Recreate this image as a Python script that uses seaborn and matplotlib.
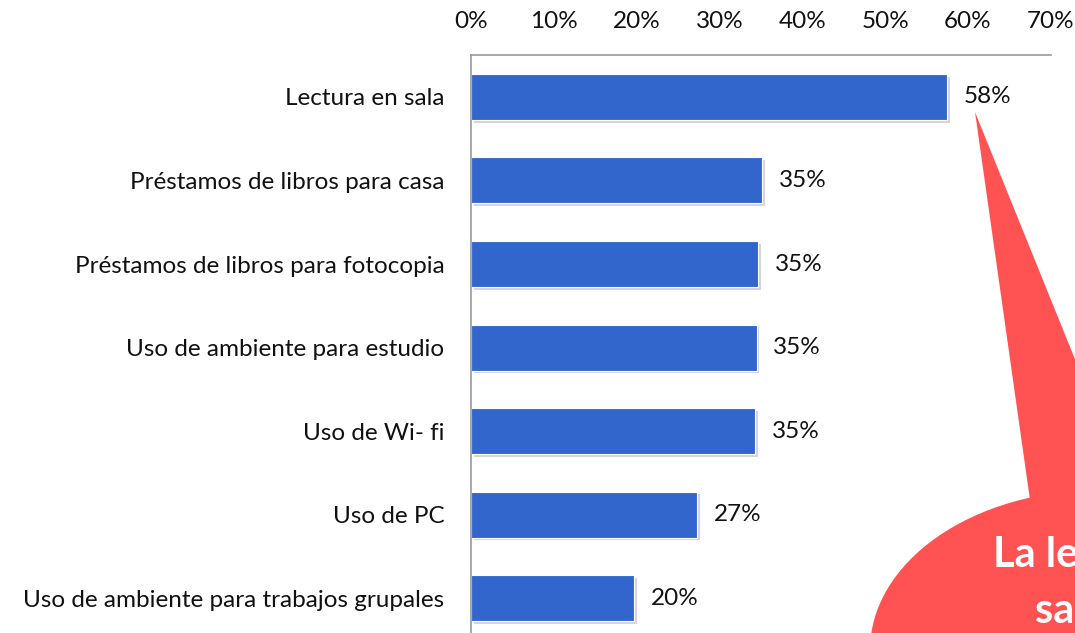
import matplotlib
matplotlib.use("Agg")
import matplotlib.pyplot as plt
import matplotlib.patheffects as pe
from matplotlib.patches import Ellipse, Polygon
from matplotlib.ticker import PercentFormatter
import pandas as pd
import seaborn as sns

servicios = [
    "Lectura en sala",
    "Préstamos de libros para casa",
    "Préstamos de libros para fotocopia",
    "Uso de ambiente para estudio",
    "Uso de Wi- fi",
    "Uso de PC",
    "Uso de ambiente para trabajos grupales",
]
porcentajes = [0.575, 0.352, 0.347, 0.345, 0.343, 0.273, 0.197]
etiquetas = ["58%", "35%", "35%", "35%", "35%", "27%", "20%"]
ticks_x = [0, 0.1, 0.2, 0.3, 0.4, 0.5, 0.6, 0.7]

BAR = "#3366CC"
RED = "#FF5252"

sns.set_theme(style="white")
plt.rcParams["font.family"] = ["Lato", "DejaVu Sans"]

df = pd.DataFrame({"servicio": servicios, "pct": porcentajes})

fig = plt.figure(figsize=(10.75, 6.33), dpi=100)
ax = fig.add_axes([0.438, -0.0111, 0.5395, 0.924])

sns.barplot(data=df, y="servicio", x="pct", color=BAR, saturation=1,
            width=0.55, edgecolor="white", linewidth=0.8, ax=ax)

for p in ax.patches:
    p.set_path_effects([pe.SimplePatchShadow(offset=(2, -2), alpha=0.35,
                                             shadow_rgbFace="#888888"),
                        pe.Normal()])

for i, (v, lab) in enumerate(zip(porcentajes, etiquetas)):
    ax.text(v + 0.02, i, lab, va="center", ha="left", fontsize=17.5, color="#111111")

ax.set_xlim(0, 0.7)
ax.set_ylim(6.5, -0.5)
ax.set_xticks(ticks_x)
ax.xaxis.set_major_formatter(PercentFormatter(1.0, decimals=0))
ax.xaxis.tick_top()
ax.tick_params(axis="x", length=0, pad=17, labelsize=17.5, colors="#111111")
ax.tick_params(axis="y", length=0, pad=19, labelsize=17.5, colors="#111111")
ax.set_xlabel("")
ax.set_ylabel("")

for s in ["right", "bottom"]:
    ax.spines[s].set_visible(False)
for s in ["top", "left"]:
    ax.spines[s].set_color("#999999")
    ax.spines[s].set_linewidth(1.2)

# speech bubble overlay (figure pixel coordinates)
ov = fig.add_axes([0, 0, 1, 1], zorder=5)
ov.set_xlim(0, 1075)
ov.set_ylim(633, 0)
ov.axis("off")
ov.patch.set_alpha(0)
ov.add_patch(Ellipse((1100, 650), 460, 320, facecolor=RED, edgecolor="none"))
ov.add_patch(Polygon([(1030, 500), (975, 112), (1140, 520)], closed=True,
                     facecolor=RED, edgecolor="none"))
ov.text(993, 555, "La lectura en", color="white", fontsize=30, fontweight="bold",
        ha="left", va="center")
ov.text(1035, 611, "sala", color="white", fontsize=30,
        fontweight="bold", ha="left", va="center")

fig.savefig("out.png", dpi=100)
